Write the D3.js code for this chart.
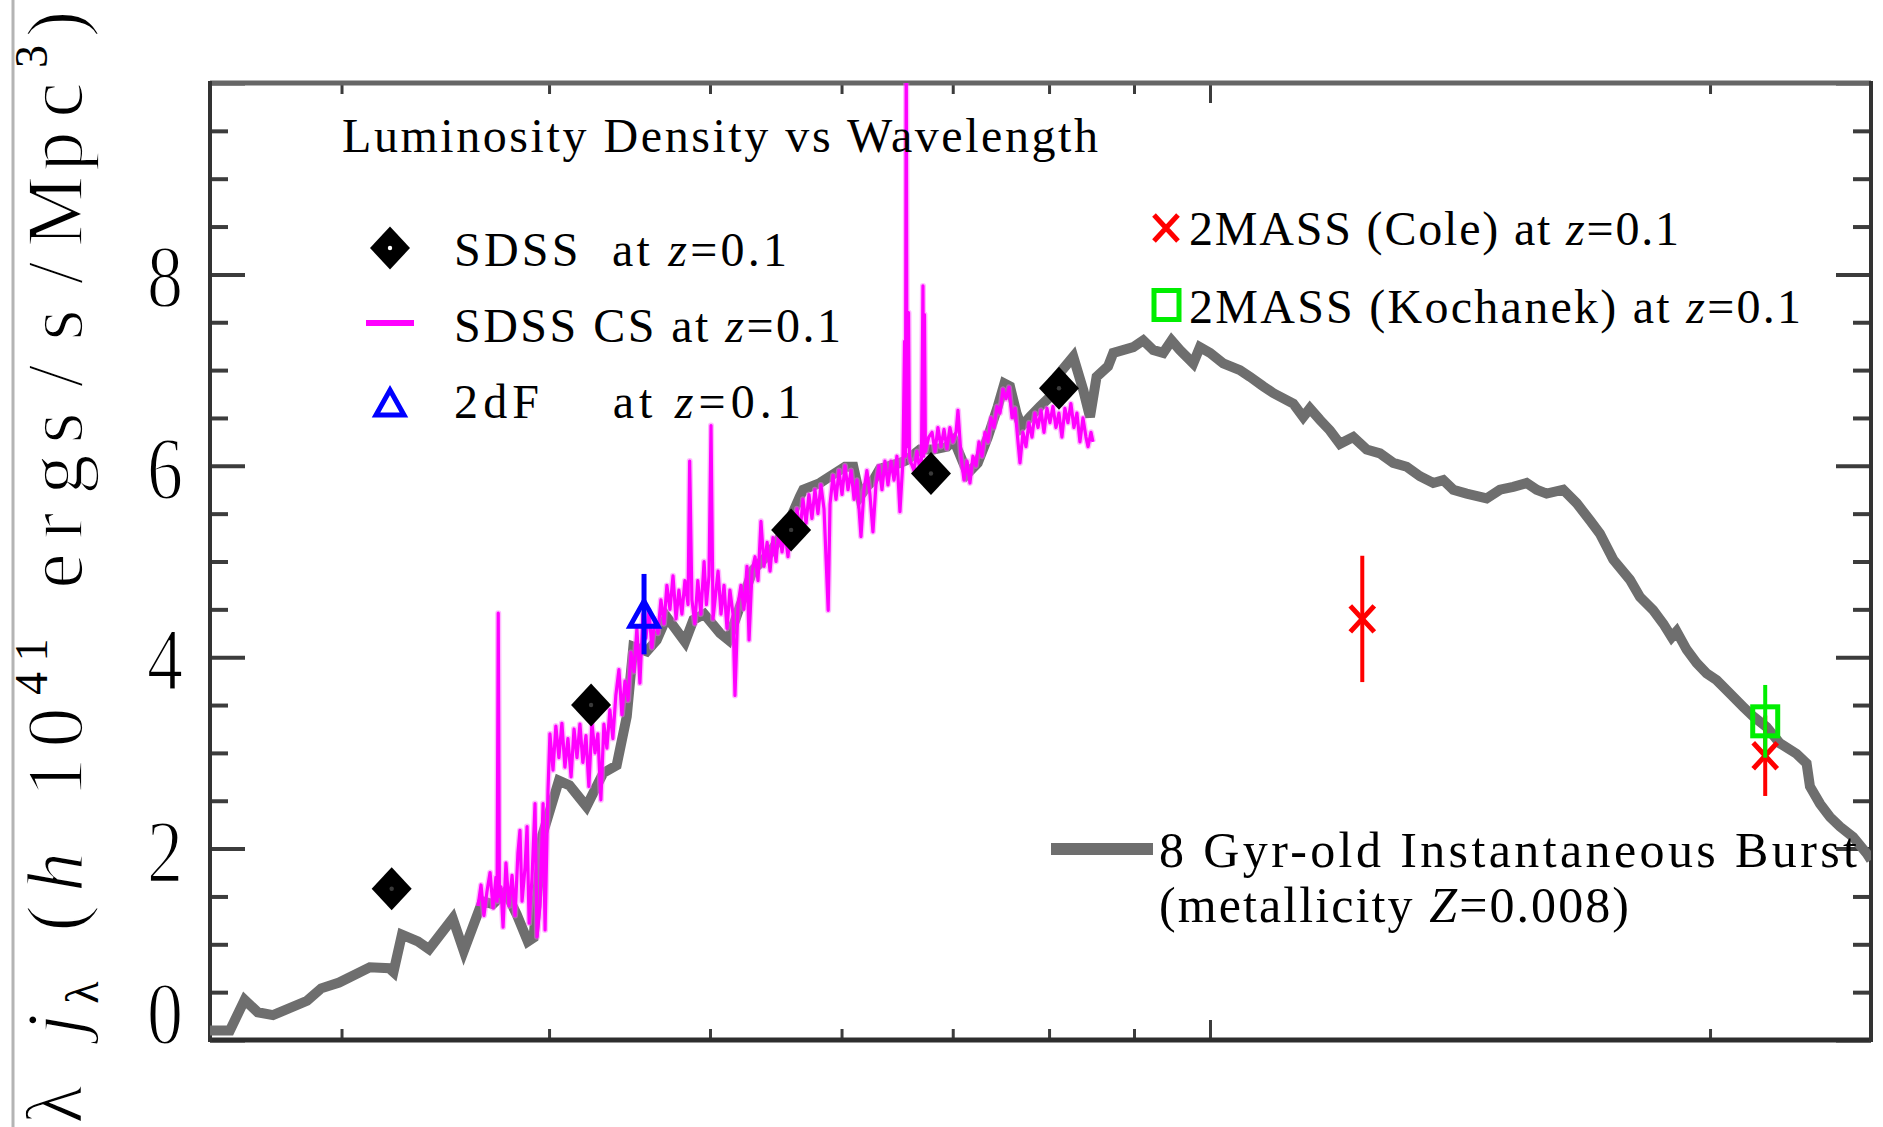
<!DOCTYPE html>
<html>
<head>
<meta charset="utf-8">
<script src="https://cdn.jsdelivr.net/npm/d3@7"></script>
<style>
  html, body { margin: 0; padding: 0; background: #fff; }
  svg { display: block; }
  text { font-family: "Liberation Serif", "Times New Roman", serif; fill: #000; white-space: pre; }
  .thin { stroke: #fff; stroke-width: 1.8; paint-order: normal; }
  .thin .small { stroke: none; }
</style>
</head>
<body>
<svg id="chart" width="1883" height="1127"></svg>
<script>
// ---- 8 Gyr-old instantaneous burst model (wavelength in Angstrom, lambda j_lambda) ----
const modelWave = [2500, 2570, 2623, 2671, 2728, 2860, 2917, 2990, 3120, 3205, 3224, 3262, 3335, 3387,
  3500, 3554, 3647, 3700, 3767, 3825, 3884, 3915, 3963, 4055, 4115, 4213, 4312, 4393, 4455, 4496,
  4580, 4644, 4709, 4830, 4886, 4960, 5070, 5129, 5212, 5306, 5434, 5560, 5664, 5690, 5823, 5905,
  6030, 6099, 6155, 6212, 6270, 6328, 6506, 6567, 6689, 6815, 6945, 7010, 7146, 7247, 7349, 7451,
  7520, 7578, 7647, 7700, 7791, 7900, 8010, 8084, 8273, 8389, 8467, 8545, 8682, 8745, 8991, 9116,
  9243, 9372, 9481, 9591, 9770, 9861, 10000, 10185, 10423, 10569, 10766, 10916, 11223, 11379, 11485,
  11646, 11808, 11973, 12196, 12425, 12657, 12892, 13134, 13378, 13627, 13818, 14010, 14272, 14674,
  14947, 15225, 15510, 15727, 15946, 16318, 16623, 16934, 17169, 17489, 17898, 18149, 18486, 18745,
  18964, 19095, 19362, 19633, 19906, 20185, 20560, 20944, 21235, 21633, 22035, 22552, 22865, 22971,
  23292, 23618, 23946, 24391, 24849, 25000];
const modelLum = [0.10, 0.10, 0.42, 0.29, 0.26, 0.41, 0.54, 0.60, 0.76, 0.75, 0.71, 1.10, 1.03, 0.95,
  1.27, 0.93, 1.45, 1.42, 1.55, 1.31, 1.03, 1.07, 2.14, 2.71, 2.66, 2.44, 2.79, 2.87, 3.38, 4.11,
  4.06, 4.18, 4.42, 4.16, 4.39, 4.45, 4.25, 4.18, 4.53, 4.91, 5.09, 5.36, 5.68, 5.75, 5.82, 5.89,
  5.99, 5.99, 5.68, 5.78, 5.85, 5.97, 6.03, 6.06, 6.17, 6.17, 6.20, 6.27, 5.92, 6.03, 6.30, 6.62,
  6.86, 6.83, 6.55, 6.41, 6.51, 6.62, 6.72, 6.93, 7.14, 6.79, 6.51, 6.93, 7.04, 7.18, 7.24, 7.31,
  7.21, 7.18, 7.31, 7.21, 7.07, 7.24, 7.18, 7.07, 7.00, 6.93, 6.83, 6.76, 6.65, 6.51, 6.60,
  6.48, 6.37, 6.23, 6.30, 6.17, 6.13, 6.03, 5.99, 5.89, 5.82, 5.85, 5.75, 5.71, 5.66,
  5.75, 5.78, 5.82, 5.75, 5.71, 5.75, 5.61, 5.43, 5.29, 5.02, 4.81, 4.63, 4.49, 4.35,
  4.21, 4.27, 4.08, 3.94, 3.83, 3.76, 3.62, 3.48, 3.38, 3.27, 3.10, 2.99, 2.89, 2.65,
  2.47, 2.33, 2.23, 2.12, 1.95, 1.88];

// ---- SDSS composite spectrum ----
const csWave = [3625, 3640, 3655, 3670, 3686, 3701, 3716, 3722, 3728, 3734, 3742, 3753, 3768, 3784,
  3800, 3816, 3831, 3842, 3853, 3869, 3880, 3891, 3907, 3923, 3934, 3950, 3967, 3978, 3994, 4005,
  4022, 4038, 4055, 4072, 4089, 4106, 4124, 4141, 4158, 4175, 4192, 4210, 4227, 4245, 4263, 4280,
  4298, 4316, 4334, 4352, 4370, 4388, 4407, 4425, 4444, 4463, 4481, 4500, 4518, 4537, 4556, 4575,
  4594, 4613, 4632, 4652, 4671, 4691, 4710, 4730, 4750, 4770, 4789, 4809, 4829, 4850, 4861, 4876,
  4896, 4916, 4937, 4959, 4975, 4993, 5007, 5021, 5035, 5056, 5077, 5098, 5119, 5140, 5162, 5176,
  5198, 5219, 5241, 5263, 5278, 5300, 5322, 5344, 5366, 5389, 5412, 5434, 5456, 5479, 5502, 5525,
  5548, 5571, 5594, 5617, 5641, 5664, 5688, 5712, 5735, 5759, 5783, 5807, 5831, 5856, 5890, 5905,
  5930, 5954, 5979, 6004, 6029, 6054, 6080, 6105, 6130, 6164, 6190, 6215, 6241, 6267, 6293, 6319,
  6346, 6372, 6399, 6426, 6453, 6479, 6506, 6533, 6548, 6556, 6563, 6570, 6584, 6592, 6601, 6634,
  6661, 6689, 6703, 6717, 6724, 6731, 6740, 6771, 6802, 6830, 6858, 6887, 6916, 6944, 6973, 7002,
  7032, 7051, 7081, 7110, 7140, 7169, 7199, 7229, 7259, 7290, 7320, 7351, 7381, 7412, 7443, 7474,
  7505, 7537, 7568, 7600, 7631, 7663, 7684, 7716, 7748, 7780, 7813, 7845, 7878, 7911, 7944, 7977,
  8010, 8043, 8077, 8110, 8144, 8178, 8212, 8246, 8281, 8315, 8350, 8385, 8420, 8444, 8479, 8502];
const csLum = [1.40, 1.62, 1.30, 1.55, 1.75, 1.38, 1.70, 1.45, 4.46, 1.50, 1.60, 1.18, 1.85, 1.40,
  1.72, 1.30, 1.95, 2.19, 1.45, 1.80, 2.23, 1.22, 1.70, 2.47, 1.08, 1.40, 2.47, 1.15, 2.60, 3.20,
  2.82, 3.28, 2.95, 3.31, 2.85, 3.15, 2.75, 3.25, 2.95, 3.30, 2.90, 3.18, 2.65, 3.31, 3.00, 3.20,
  2.51, 3.30, 3.05, 3.45, 3.15, 3.60, 3.87, 3.40, 3.75, 3.55, 4.05, 3.85, 4.30, 3.73, 4.45, 4.20,
  4.49, 4.10, 4.40, 4.25, 4.60, 4.35, 4.75, 4.50, 4.85, 4.40, 4.70, 4.45, 4.80, 4.55, 6.05, 4.60,
  4.35, 4.80, 4.45, 5.00, 4.55, 4.85, 6.42, 4.40, 4.60, 4.90, 4.45, 4.75, 4.30, 4.70, 4.45, 3.60,
  4.55, 4.75, 4.50, 4.95, 4.18, 4.90, 5.05, 4.80, 5.42, 4.95, 5.20, 4.90, 5.25, 5.00, 5.35, 5.10,
  5.30, 5.05, 5.45, 5.25, 5.55, 5.30, 5.65, 5.40, 5.70, 5.45, 5.75, 5.50, 5.80, 5.55, 4.49, 5.60,
  5.90, 5.65, 5.95, 5.70, 6.00, 5.75, 5.95, 5.65, 5.85, 5.26, 5.75, 5.95, 5.70, 5.31, 5.80, 6.00,
  5.75, 6.05, 5.80, 6.05, 5.85, 6.10, 5.52, 6.05, 7.30, 6.10, 10.5, 6.20, 7.60, 6.10, 6.05, 5.95,
  6.15, 5.95, 6.05, 7.88, 6.10, 7.58, 6.15, 6.30, 6.35, 6.15, 6.40, 6.20, 6.38, 6.18, 6.40, 6.25,
  6.35, 6.58, 6.10, 5.85, 6.05, 5.82, 6.10, 6.00, 6.25, 6.10, 6.35, 6.25, 6.50, 6.40, 6.62, 6.55,
  6.80, 6.70, 6.82, 6.50, 6.60, 6.25, 6.03, 6.35, 6.20, 6.45, 6.30, 6.55, 6.40, 6.58, 6.35, 6.60,
  6.45, 6.62, 6.40, 6.55, 6.30, 6.60, 6.45, 6.65, 6.40, 6.55, 6.25, 6.50, 6.30, 6.20, 6.35, 6.25];

// ---- band measurements ----
const sdssWave = [3216, 4240, 5595, 6792, 8111];
const sdssLum = [1.58, 3.50, 5.33, 5.92, 6.81];
const twodfWave = [4563];
const twodfLum = [4.45];
const twodfErr = [0.42];
const coleWave = [12350, 21590];
const coleLum = [4.40, 2.97];
const coleErr = [0.66, 0.42];
const kochWave = [21590];
const kochLum = [3.33];
const kochErr = [0.38];

// ---- axis ticks ----
const yTickLabels = [0, 2, 4, 6, 8];
const yMajorTicks = [0, 2, 4, 6, 8, 10];
const yMinorTicks = [0.5, 1, 1.5, 2.5, 3, 3.5, 4.5, 5, 5.5, 6.5, 7, 7.5, 8.5, 9, 9.5];
const xMinorTicks = [3000, 4000, 5000, 6000, 7000, 8000, 9000, 20000];
const xMajorTicks = [10000];

// ---- layout ----
const svg = d3.select("#chart");
const L = 210, R = 1871, T = 83, B = 1040;
const x = d3.scaleLog().domain([2500, 25000]).range([L, R]);
const y = d3.scaleLinear().domain([0, 10]).range([B, T]);

const GRAY = "#6e6e6e", MAG = "#ff00ff", BLUE = "#0000ff", RED = "#ff0000", GREEN = "#00ee00";

// thin border line on the far left
svg.append("line").attr("x1", 13).attr("x2", 13).attr("y1", 0).attr("y2", 1127)
  .attr("stroke", "#b4b4b4").attr("stroke-width", 3);

svg.append("clipPath").attr("id", "plotclip")
  .append("rect").attr("x", L).attr("y", T).attr("width", R - L).attr("height", B - T);

// ---- ticks via d3 axes (drawn inward) ----
function tickAxis(gen, values, size, transform, width) {
  const g = svg.append("g").attr("transform", transform)
    .call(gen.tickValues(values).tickSize(-size).tickFormat(""));
  g.select(".domain").remove();
  g.selectAll(".tick line").attr("stroke", "#3c3c3c").attr("stroke-width", width);
  return g;
}
tickAxis(d3.axisLeft(y), yMajorTicks, 35, `translate(${L},0)`, 4);
tickAxis(d3.axisLeft(y), yMinorTicks, 18, `translate(${L},0)`, 4);
tickAxis(d3.axisRight(y), yMajorTicks, 35, `translate(${R},0)`, 4);
tickAxis(d3.axisRight(y), yMinorTicks, 18, `translate(${R},0)`, 4);
tickAxis(d3.axisBottom(x), xMinorTicks, 11, `translate(0,${B})`, 3);
tickAxis(d3.axisBottom(x), xMajorTicks, 20, `translate(0,${B})`, 3);
tickAxis(d3.axisTop(x), xMinorTicks, 11, `translate(0,${T})`, 3);
tickAxis(d3.axisTop(x), xMajorTicks, 20, `translate(0,${T})`, 3);

// ---- frame ----
svg.append("line").attr("x1", L).attr("x2", R).attr("y1", T).attr("y2", T).attr("stroke", "#666").attr("stroke-width", 5);
svg.append("line").attr("x1", L).attr("x2", R).attr("y1", B).attr("y2", B).attr("stroke", "#2e2e2e").attr("stroke-width", 5);
svg.append("line").attr("x1", L).attr("x2", L).attr("y1", T - 2).attr("y2", B + 2).attr("stroke", "#333").attr("stroke-width", 4);
svg.append("line").attr("x1", R).attr("x2", R).attr("y1", T - 2).attr("y2", B + 2).attr("stroke", "#333").attr("stroke-width", 4);

// ---- y tick labels ----
svg.append("g").selectAll("text").data(yTickLabels).join("text")
  .attr("class", "thin")
  .attr("x", 165)
  .attr("y", d => Math.min(y(d) + 32, B + 3))
  .attr("text-anchor", "middle")
  .attr("font-size", 88)
  .attr("textLength", 36)
  .attr("lengthAdjust", "spacingAndGlyphs")
  .text(d => d);

// ---- y axis title (rotated) ----
const yTitle = [
  { t: "λ", c: 1104.5 }, { t: "j", c: 1025, it: true }, { t: "λ", c: 992.5, sub: true },
  { t: "(", c: 918.5 }, { t: "h", c: 872, it: true },
  { t: "1", c: 777.5 }, { t: "0", c: 727.5 }, { t: "4", c: 683.5, sup: true }, { t: "1", c: 650, sup: true },
  { t: "e", c: 571 }, { t: "r", c: 526 }, { t: "g", c: 474.5 }, { t: "s", c: 428 }, { t: "/", c: 376 },
  { t: "s", c: 325 }, { t: "/", c: 273 }, { t: "M", c: 211.5 }, { t: "p", c: 151.5 }, { t: "c", c: 100 },
  { t: "3", c: 56.5, sup: true }, { t: ")", c: 24 }
];
const yt = svg.append("text").attr("class", "thin").attr("transform", "rotate(-90)")
  .attr("text-anchor", "middle").attr("font-size", 80);
yTitle.forEach(p => {
  yt.append("tspan")
    .attr("class", (p.sup || p.sub) ? "small" : null)
    .attr("x", -p.c)
    .attr("y", p.sup ? 47 : p.sub ? 98 : 82)
    .attr("font-size", (p.sup || p.sub) ? 46 : 80)
    .attr("font-style", p.it ? "italic" : null)
    .text(p.t);
});

// ---- spectra ----
const plot = svg.append("g").attr("clip-path", "url(#plotclip)");
const line = d3.line().x(d => x(d[0])).y(d => y(d[1]));
const modelPts = modelWave.map((w, i) => [w, modelLum[i]]);
const csPts = csWave.map((w, i) => [w, csLum[i]]);

plot.append("path").attr("d", line(modelPts)).attr("fill", "none")
  .attr("stroke", GRAY).attr("stroke-width", 10).attr("stroke-linejoin", "miter").attr("stroke-miterlimit", 3);
plot.append("path").attr("d", line(csPts)).attr("fill", "none")
  .attr("stroke", "#ff66ff").attr("stroke-width", 6).attr("stroke-opacity", 0.45).attr("stroke-linejoin", "round");
plot.append("path").attr("d", line(csPts)).attr("fill", "none")
  .attr("stroke", MAG).attr("stroke-width", 3.2).attr("stroke-linejoin", "round");

// ---- marker helpers ----
function diamond(g, cx, cy, dotColor) {
  g.append("path").attr("d", `M${cx},${cy - 21.5}L${cx + 20},${cy}L${cx},${cy + 21.5}L${cx - 20},${cy}Z`).attr("fill", "#000");
  g.append("circle").attr("cx", cx).attr("cy", cy).attr("r", 2.2).attr("fill", dotColor);
}
function triangle(g, cx, cy) {
  g.append("path").attr("d", `M${cx},${cy - 13}L${cx + 14},${cy + 12}L${cx - 14},${cy + 12}Z`)
    .attr("fill", "none").attr("stroke", BLUE).attr("stroke-width", 5).attr("stroke-linejoin", "miter");
}
function cross(g, cx, cy) {
  g.append("path").attr("d", `M${cx - 12},${cy - 13}L${cx + 12},${cy + 13}M${cx + 12},${cy - 13}L${cx - 12},${cy + 13}`)
    .attr("stroke", RED).attr("stroke-width", 5).attr("fill", "none");
}
function square(g, cx, cy) {
  g.append("rect").attr("x", cx - 12.5).attr("y", cy - 14.5).attr("width", 25).attr("height", 29)
    .attr("fill", "none").attr("stroke", GREEN).attr("stroke-width", 5);
}
function errBar(g, w, v, e, color, width) {
  g.append("line").attr("x1", x(w)).attr("x2", x(w)).attr("y1", y(v + e)).attr("y2", y(v - e))
    .attr("stroke", color).attr("stroke-width", width);
}

const marks = svg.append("g");
sdssWave.forEach((w, i) => diamond(marks, x(w), y(sdssLum[i]), "#3a3a3a"));
twodfWave.forEach((w, i) => { errBar(marks, w, twodfLum[i], twodfErr[i], BLUE, 5); triangle(marks, x(w), y(twodfLum[i])); });
coleWave.forEach((w, i) => { errBar(marks, w, coleLum[i], coleErr[i], RED, 4); cross(marks, x(w), y(coleLum[i])); });
kochWave.forEach((w, i) => { square(marks, x(w), y(kochLum[i])); errBar(marks, w, kochLum[i], kochErr[i], GREEN, 4); });

// ---- title and legends ----
function label(xp, yp, len, parts, size) {
  const t = svg.append("text").attr("x", xp).attr("y", yp).attr("font-size", size || 48)
    .attr("textLength", len).attr("lengthAdjust", "spacing");
  parts.forEach(p => t.append("tspan").attr("font-style", p.it ? "italic" : null).text(p.t));
  return t;
}
label(342, 152, 756, [{ t: "Luminosity Density vs Wavelength" }]);

const leg = svg.append("g");
diamond(leg, 390, 248, "#fff");
leg.append("line").attr("x1", 366).attr("x2", 414).attr("y1", 323).attr("y2", 323).attr("stroke", MAG).attr("stroke-width", 6);
triangle(leg, 390, 403);
label(454, 266, 333, [{ t: "SDSS  at " }, { t: "z", it: true }, { t: "=0.1" }]);
label(454, 342, 387, [{ t: "SDSS CS at " }, { t: "z", it: true }, { t: "=0.1" }]);
label(454, 418, 347, [{ t: "2dF    at " }, { t: "z", it: true }, { t: "=0.1" }]);

cross(leg, 1166, 228);
square(leg, 1166.5, 305);
label(1189, 245, 490, [{ t: "2MASS (Cole) at " }, { t: "z", it: true }, { t: "=0.1" }]);
label(1189, 323, 612, [{ t: "2MASS (Kochanek) at " }, { t: "z", it: true }, { t: "=0.1" }]);

leg.append("line").attr("x1", 1051).attr("x2", 1153).attr("y1", 849).attr("y2", 849).attr("stroke", GRAY).attr("stroke-width", 12);
label(1159, 867, 698, [{ t: "8 Gyr-old Instantaneous Burst" }], 50);
label(1159, 922, 470, [{ t: "(metallicity " }, { t: "Z", it: true }, { t: "=0.008)" }], 50);
</script>
</body>
</html>
